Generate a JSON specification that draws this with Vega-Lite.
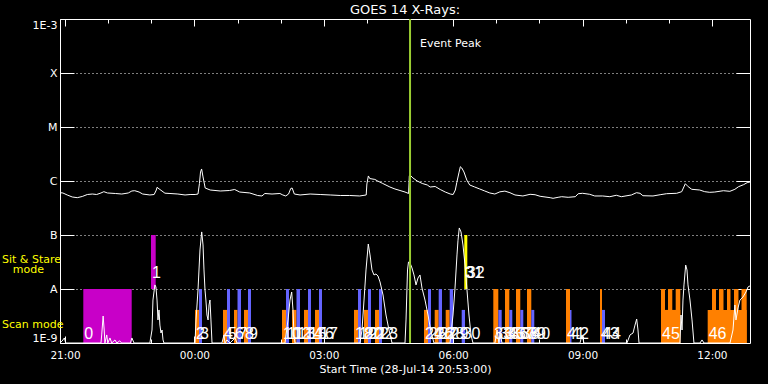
{
"$schema":"https://vega.github.io/schema/vega-lite/v6.json",
"width":690,"height":324,
"autosize":{"type":"none"},
"padding":{"left":60,"top":19,"right":18,"bottom":41},
"background":"#000000",
"config":{"view":{"stroke":"#ffffff","strokeWidth":1},"font":"DejaVu Sans"},
"title":{"text":"GOES 14 X-Rays:","color":"#ffffff","fontSize":13,"fontWeight":"normal","font":"DejaVu Sans","anchor":"middle","frame":"group","offset":5,"baseline":"alphabetic","dy":14},
"datasets":{
"bars":[
{"t":"2014-07-28T21:25:25","t2":"2014-07-28T22:32:45","lo":1e-9,"hi":1e-8,"kind":"overview"},
{"t":"2014-07-28T22:59:37","t2":"2014-07-28T23:06:09","lo":1e-8,"hi":1e-7,"kind":"stare"},
{"t":"2014-07-29T00:00:50","t2":"2014-07-29T00:06:23","lo":1e-9,"hi":4.1e-9,"kind":"scanA"},
{"t":"2014-07-29T00:06:23","t2":"2014-07-29T00:10:34","lo":1e-9,"hi":1e-8,"kind":"scanB"},
{"t":"2014-07-29T00:39:47","t2":"2014-07-29T00:45:21","lo":1e-9,"hi":4.1e-9,"kind":"scanA"},
{"t":"2014-07-29T00:45:21","t2":"2014-07-29T00:49:31","lo":1e-9,"hi":1e-8,"kind":"scanB"},
{"t":"2014-07-29T00:55:05","t2":"2014-07-29T00:59:58","lo":1e-9,"hi":4.1e-9,"kind":"scanA"},
{"t":"2014-07-29T00:59:58","t2":"2014-07-29T01:04:50","lo":1e-9,"hi":1e-8,"kind":"scanB"},
{"t":"2014-07-29T01:09:00","t2":"2014-07-29T01:14:34","lo":1e-9,"hi":4.1e-9,"kind":"scanA"},
{"t":"2014-07-29T01:14:34","t2":"2014-07-29T01:18:44","lo":1e-9,"hi":1e-8,"kind":"scanB"},
{"t":"2014-07-29T02:01:52","t2":"2014-07-29T02:07:26","lo":1e-9,"hi":4.1e-9,"kind":"scanA"},
{"t":"2014-07-29T02:07:26","t2":"2014-07-29T02:11:37","lo":1e-9,"hi":1e-8,"kind":"scanB"},
{"t":"2014-07-29T02:15:47","t2":"2014-07-29T02:22:02","lo":1e-9,"hi":4.1e-9,"kind":"scanA"},
{"t":"2014-07-29T02:22:02","t2":"2014-07-29T02:26:55","lo":1e-9,"hi":1e-8,"kind":"scanB"},
{"t":"2014-07-29T02:32:29","t2":"2014-07-29T02:38:02","lo":1e-9,"hi":4.1e-9,"kind":"scanA"},
{"t":"2014-07-29T02:38:02","t2":"2014-07-29T02:42:13","lo":1e-9,"hi":1e-8,"kind":"scanB"},
{"t":"2014-07-29T02:47:47","t2":"2014-07-29T02:53:21","lo":1e-9,"hi":4.1e-9,"kind":"scanA"},
{"t":"2014-07-29T02:53:21","t2":"2014-07-29T02:57:31","lo":1e-9,"hi":1e-8,"kind":"scanB"},
{"t":"2014-07-29T03:42:02","t2":"2014-07-29T03:47:37","lo":1e-9,"hi":4.1e-9,"kind":"scanA"},
{"t":"2014-07-29T03:47:37","t2":"2014-07-29T03:51:47","lo":1e-9,"hi":1e-8,"kind":"scanB"},
{"t":"2014-07-29T03:55:58","t2":"2014-07-29T04:01:31","lo":1e-9,"hi":4.1e-9,"kind":"scanA"},
{"t":"2014-07-29T04:01:31","t2":"2014-07-29T04:05:41","lo":1e-9,"hi":1e-8,"kind":"scanB"},
{"t":"2014-07-29T04:11:16","t2":"2014-07-29T04:16:49","lo":1e-9,"hi":4.1e-9,"kind":"scanA"},
{"t":"2014-07-29T04:16:49","t2":"2014-07-29T04:21:00","lo":1e-9,"hi":1e-8,"kind":"scanB"},
{"t":"2014-07-29T05:19:26","t2":"2014-07-29T05:25:00","lo":1e-9,"hi":4.1e-9,"kind":"scanA"},
{"t":"2014-07-29T05:25:00","t2":"2014-07-29T05:29:10","lo":1e-9,"hi":1e-8,"kind":"scanB"},
{"t":"2014-07-29T05:34:19","t2":"2014-07-29T05:39:53","lo":1e-9,"hi":4.1e-9,"kind":"scanA"},
{"t":"2014-07-29T05:39:53","t2":"2014-07-29T05:44:29","lo":1e-9,"hi":1e-8,"kind":"scanB"},
{"t":"2014-07-29T05:49:37","t2":"2014-07-29T05:55:11","lo":1e-9,"hi":4.1e-9,"kind":"scanA"},
{"t":"2014-07-29T05:55:11","t2":"2014-07-29T05:59:47","lo":1e-9,"hi":1e-8,"kind":"scanB"},
{"t":"2014-07-29T06:11:53","t2":"2014-07-29T06:16:29","lo":1e-9,"hi":4.1e-9,"kind":"scanB"},
{"t":"2014-07-29T06:15:30","t2":"2014-07-29T06:19:41","lo":1e-8,"hi":1e-7,"kind":"stareY"},
{"t":"2014-07-29T06:55:51","t2":"2014-07-29T07:02:49","lo":1e-9,"hi":1e-8,"kind":"scanA"},
{"t":"2014-07-29T07:02:49","t2":"2014-07-29T07:07:32","lo":1e-9,"hi":4.1e-9,"kind":"scanB"},
{"t":"2014-07-29T07:12:08","t2":"2014-07-29T07:18:07","lo":1e-9,"hi":1e-8,"kind":"scanA"},
{"t":"2014-07-29T07:18:07","t2":"2014-07-29T07:22:17","lo":1e-9,"hi":4.1e-9,"kind":"scanB"},
{"t":"2014-07-29T07:27:26","t2":"2014-07-29T07:33:25","lo":1e-9,"hi":1e-8,"kind":"scanA"},
{"t":"2014-07-29T07:33:25","t2":"2014-07-29T07:37:35","lo":1e-9,"hi":4.1e-9,"kind":"scanB"},
{"t":"2014-07-29T07:42:44","t2":"2014-07-29T07:48:43","lo":1e-9,"hi":1e-8,"kind":"scanA"},
{"t":"2014-07-29T07:48:43","t2":"2014-07-29T07:52:53","lo":1e-9,"hi":4.1e-9,"kind":"scanB"},
{"t":"2014-07-29T08:37:00","t2":"2014-07-29T08:42:34","lo":1e-9,"hi":1e-8,"kind":"scanA"},
{"t":"2014-07-29T08:42:34","t2":"2014-07-29T08:44:39","lo":1e-9,"hi":4.1e-9,"kind":"scanB"},
{"t":"2014-07-29T09:24:18","t2":"2014-07-29T09:27:05","lo":1e-9,"hi":1e-8,"kind":"scanA"},
{"t":"2014-07-29T09:27:05","t2":"2014-07-29T09:31:16","lo":1e-9,"hi":4.1e-9,"kind":"scanB"},
{"t":"2014-07-29T10:49:10","t2":"2014-07-29T11:16:01","lo":1e-9,"hi":4.1e-9,"kind":"scanA"},
{"t":"2014-07-29T10:49:10","t2":"2014-07-29T10:54:44","lo":1e-9,"hi":1e-8,"kind":"scanA"},
{"t":"2014-07-29T10:58:55","t2":"2014-07-29T11:04:53","lo":1e-9,"hi":1e-8,"kind":"scanA"},
{"t":"2014-07-29T11:09:37","t2":"2014-07-29T11:16:01","lo":1e-9,"hi":1e-8,"kind":"scanA"},
{"t":"2014-07-29T11:54:08","t2":"2014-07-29T12:48:24","lo":1e-9,"hi":4.1e-9,"kind":"scanA"},
{"t":"2014-07-29T12:00:08","t2":"2014-07-29T12:05:41","lo":1e-9,"hi":1e-8,"kind":"scanA"},
{"t":"2014-07-29T12:09:52","t2":"2014-07-29T12:16:08","lo":1e-9,"hi":1e-8,"kind":"scanA"},
{"t":"2014-07-29T12:21:00","t2":"2014-07-29T12:25:52","lo":1e-9,"hi":1e-8,"kind":"scanA"},
{"t":"2014-07-29T12:30:44","t2":"2014-07-29T12:36:58","lo":1e-9,"hi":1e-8,"kind":"scanA"},
{"t":"2014-07-29T12:41:10","t2":"2014-07-29T12:48:24","lo":1e-9,"hi":1e-8,"kind":"scanA"}
],
"flux":[
{"band":"long","t":"2014-07-28T20:53:00","v":6.07e-7},
{"band":"long","t":"2014-07-28T20:57:00","v":6.0e-7},
{"band":"long","t":"2014-07-28T21:03:00","v":5.51e-7},
{"band":"long","t":"2014-07-28T21:10:00","v":5.06e-7},
{"band":"long","t":"2014-07-28T21:17:00","v":4.91e-7},
{"band":"long","t":"2014-07-28T21:24:00","v":5.17e-7},
{"band":"long","t":"2014-07-28T21:31:00","v":5.62e-7},
{"band":"long","t":"2014-07-28T21:38:00","v":5.74e-7},
{"band":"long","t":"2014-07-28T21:44:00","v":5.62e-7},
{"band":"long","t":"2014-07-28T21:50:00","v":6.0e-7},
{"band":"long","t":"2014-07-28T21:54:00","v":6.34e-7},
{"band":"long","t":"2014-07-28T21:59:00","v":6.0e-7},
{"band":"long","t":"2014-07-28T22:10:00","v":5.87e-7},
{"band":"long","t":"2014-07-28T22:19:00","v":5.74e-7},
{"band":"long","t":"2014-07-28T22:28:00","v":6.0e-7},
{"band":"long","t":"2014-07-28T22:33:00","v":6.53e-7},
{"band":"long","t":"2014-07-28T22:37:00","v":6.61e-7},
{"band":"long","t":"2014-07-28T22:43:00","v":6.25e-7},
{"band":"long","t":"2014-07-28T22:48:00","v":5.74e-7},
{"band":"long","t":"2014-07-28T22:58:00","v":5.51e-7},
{"band":"long","t":"2014-07-28T23:04:00","v":5.62e-7},
{"band":"long","t":"2014-07-28T23:07:00","v":6.81e-7},
{"band":"long","t":"2014-07-28T23:08:00","v":7.64e-7},
{"band":"long","t":"2014-07-28T23:12:00","v":6.96e-7},
{"band":"long","t":"2014-07-28T23:19:00","v":5.95e-7},
{"band":"long","t":"2014-07-28T23:26:00","v":5.87e-7},
{"band":"long","t":"2014-07-28T23:37:00","v":5.74e-7},
{"band":"long","t":"2014-07-28T23:47:00","v":5.51e-7},
{"band":"long","t":"2014-07-28T23:54:00","v":5.62e-7},
{"band":"long","t":"2014-07-29T00:01:00","v":5.62e-7},
{"band":"long","t":"2014-07-29T00:05:00","v":5.74e-7},
{"band":"long","t":"2014-07-29T00:07:00","v":9.0e-7},
{"band":"long","t":"2014-07-29T00:08:30","v":1.47e-6},
{"band":"long","t":"2014-07-29T00:10:00","v":1.67e-6},
{"band":"long","t":"2014-07-29T00:12:00","v":1.19e-6},
{"band":"long","t":"2014-07-29T00:15:00","v":7.41e-7},
{"band":"long","t":"2014-07-29T00:22:00","v":6.81e-7},
{"band":"long","t":"2014-07-29T00:36:00","v":6.53e-7},
{"band":"long","t":"2014-07-29T00:49:00","v":6.67e-7},
{"band":"long","t":"2014-07-29T00:56:00","v":6.96e-7},
{"band":"long","t":"2014-07-29T01:03:00","v":6.25e-7},
{"band":"long","t":"2014-07-29T01:17:00","v":6.0e-7},
{"band":"long","t":"2014-07-29T01:28:00","v":5.39e-7},
{"band":"long","t":"2014-07-29T01:34:00","v":5.28e-7},
{"band":"long","t":"2014-07-29T01:38:00","v":5.87e-7},
{"band":"long","t":"2014-07-29T01:48:00","v":5.74e-7},
{"band":"long","t":"2014-07-29T01:59:00","v":5.87e-7},
{"band":"long","t":"2014-07-29T02:03:00","v":5.51e-7},
{"band":"long","t":"2014-07-29T02:07:00","v":5.28e-7},
{"band":"long","t":"2014-07-29T02:11:00","v":5.74e-7},
{"band":"long","t":"2014-07-29T02:14:00","v":7.26e-7},
{"band":"long","t":"2014-07-29T02:16:00","v":7.41e-7},
{"band":"long","t":"2014-07-29T02:19:00","v":5.74e-7},
{"band":"long","t":"2014-07-29T02:27:00","v":5.51e-7},
{"band":"long","t":"2014-07-29T02:41:00","v":5.74e-7},
{"band":"long","t":"2014-07-29T02:55:00","v":5.62e-7},
{"band":"long","t":"2014-07-29T03:09:00","v":5.51e-7},
{"band":"long","t":"2014-07-29T03:23:00","v":5.39e-7},
{"band":"long","t":"2014-07-29T03:36:00","v":5.39e-7},
{"band":"long","t":"2014-07-29T03:50:00","v":5.28e-7},
{"band":"long","t":"2014-07-29T03:59:00","v":5.51e-7},
{"band":"long","t":"2014-07-29T04:00:00","v":8.8e-7},
{"band":"long","t":"2014-07-29T04:02:00","v":1.24e-6},
{"band":"long","t":"2014-07-29T04:04:00","v":1.11e-6},
{"band":"long","t":"2014-07-29T04:11:00","v":1.07e-6},
{"band":"long","t":"2014-07-29T04:15:00","v":1.0e-6},
{"band":"long","t":"2014-07-29T04:22:00","v":9.0e-7},
{"band":"long","t":"2014-07-29T04:32:00","v":7.74e-7},
{"band":"long","t":"2014-07-29T04:39:00","v":7.11e-7},
{"band":"long","t":"2014-07-29T04:46:00","v":6.67e-7},
{"band":"long","t":"2014-07-29T04:53:00","v":6.25e-7},
{"band":"long","t":"2014-07-29T04:58:00","v":5.87e-7},
{"band":"long","t":"2014-07-29T04:59:00","v":1.25e-6},
{"band":"long","t":"2014-07-29T05:00:00","v":1.29e-6},
{"band":"long","t":"2014-07-29T05:04:00","v":1.14e-6},
{"band":"long","t":"2014-07-29T05:10:00","v":1.0e-6},
{"band":"long","t":"2014-07-29T05:17:00","v":9.0e-7},
{"band":"long","t":"2014-07-29T05:24:00","v":8.44e-7},
{"band":"long","t":"2014-07-29T05:28:00","v":7.74e-7},
{"band":"long","t":"2014-07-29T05:35:00","v":7.91e-7},
{"band":"long","t":"2014-07-29T05:42:00","v":6.96e-7},
{"band":"long","t":"2014-07-29T05:49:00","v":6.25e-7},
{"band":"long","t":"2014-07-29T05:56:00","v":5.74e-7},
{"band":"long","t":"2014-07-29T06:00:00","v":5.62e-7},
{"band":"long","t":"2014-07-29T06:03:00","v":6.81e-7},
{"band":"long","t":"2014-07-29T06:05:00","v":9.31e-7},
{"band":"long","t":"2014-07-29T06:08:00","v":1.41e-6},
{"band":"long","t":"2014-07-29T06:10:00","v":1.84e-6},
{"band":"long","t":"2014-07-29T06:12:00","v":1.74e-6},
{"band":"long","t":"2014-07-29T06:15:00","v":1.47e-6},
{"band":"long","t":"2014-07-29T06:19:00","v":1.04e-6},
{"band":"long","t":"2014-07-29T06:23:00","v":8.44e-7},
{"band":"long","t":"2014-07-29T06:30:00","v":7.74e-7},
{"band":"long","t":"2014-07-29T06:37:00","v":7.11e-7},
{"band":"long","t":"2014-07-29T06:44:00","v":6.53e-7},
{"band":"long","t":"2014-07-29T06:51:00","v":6.0e-7},
{"band":"long","t":"2014-07-29T06:58:00","v":5.74e-7},
{"band":"long","t":"2014-07-29T07:05:00","v":6.3e-7},
{"band":"long","t":"2014-07-29T07:12:00","v":6.5e-7},
{"band":"long","t":"2014-07-29T07:19:00","v":6.07e-7},
{"band":"long","t":"2014-07-29T07:26:00","v":5.51e-7},
{"band":"long","t":"2014-07-29T07:37:00","v":5.28e-7},
{"band":"long","t":"2014-07-29T07:47:00","v":5.67e-7},
{"band":"long","t":"2014-07-29T07:54:00","v":5.57e-7},
{"band":"long","t":"2014-07-29T08:01:00","v":5.21e-7},
{"band":"long","t":"2014-07-29T08:15:00","v":4.91e-7},
{"band":"long","t":"2014-07-29T08:19:00","v":4.78e-7},
{"band":"long","t":"2014-07-29T08:26:00","v":4.99e-7},
{"band":"long","t":"2014-07-29T08:31:00","v":5.12e-7},
{"band":"long","t":"2014-07-29T08:40:00","v":4.99e-7},
{"band":"long","t":"2014-07-29T08:50:00","v":5.12e-7},
{"band":"long","t":"2014-07-29T08:54:00","v":5.82e-7},
{"band":"long","t":"2014-07-29T09:00:00","v":5.92e-7},
{"band":"long","t":"2014-07-29T09:10:00","v":5.67e-7},
{"band":"long","t":"2014-07-29T09:17:00","v":5.28e-7},
{"band":"long","t":"2014-07-29T09:28:00","v":5.28e-7},
{"band":"long","t":"2014-07-29T09:38:00","v":5.12e-7},
{"band":"long","t":"2014-07-29T09:47:00","v":5.44e-7},
{"band":"long","t":"2014-07-29T09:54:00","v":5.12e-7},
{"band":"long","t":"2014-07-29T10:08:00","v":5.51e-7},
{"band":"long","t":"2014-07-29T10:15:00","v":6.07e-7},
{"band":"long","t":"2014-07-29T10:20:00","v":5.92e-7},
{"band":"long","t":"2014-07-29T10:24:00","v":5.34e-7},
{"band":"long","t":"2014-07-29T10:38:00","v":5.28e-7},
{"band":"long","t":"2014-07-29T10:48:00","v":5.57e-7},
{"band":"long","t":"2014-07-29T10:57:00","v":5.82e-7},
{"band":"long","t":"2014-07-29T11:11:00","v":5.92e-7},
{"band":"long","t":"2014-07-29T11:18:00","v":6.34e-7},
{"band":"long","t":"2014-07-29T11:23:00","v":8.9e-7},
{"band":"long","t":"2014-07-29T11:27:00","v":7.84e-7},
{"band":"long","t":"2014-07-29T11:32:00","v":7.02e-7},
{"band":"long","t":"2014-07-29T11:43:00","v":6.81e-7},
{"band":"long","t":"2014-07-29T11:50:00","v":6.34e-7},
{"band":"long","t":"2014-07-29T11:57:00","v":6.17e-7},
{"band":"long","t":"2014-07-29T12:04:00","v":6.25e-7},
{"band":"long","t":"2014-07-29T12:16:00","v":6.61e-7},
{"band":"long","t":"2014-07-29T12:25:00","v":6.44e-7},
{"band":"long","t":"2014-07-29T12:32:00","v":7.02e-7},
{"band":"long","t":"2014-07-29T12:37:00","v":7.84e-7},
{"band":"long","t":"2014-07-29T12:44:00","v":8.54e-7},
{"band":"long","t":"2014-07-29T12:49:00","v":9.31e-7},
{"band":"long","t":"2014-07-29T12:53:00","v":9.6e-7},
{"band":"short","t":"2014-07-28T20:53:00","v":1e-9},
{"band":"short","t":"2014-07-28T20:56:00","v":1.09e-9},
{"band":"short","t":"2014-07-28T20:59:00","v":1.24e-9},
{"band":"short","t":"2014-07-28T21:01:00","v":1e-9},
{"band":"short","t":"2014-07-28T21:50:00","v":1e-9},
{"band":"short","t":"2014-07-28T21:51:00","v":1.41e-9},
{"band":"short","t":"2014-07-28T21:53:00","v":3.16e-9},
{"band":"short","t":"2014-07-28T21:54:30","v":1.74e-9},
{"band":"short","t":"2014-07-28T21:55:30","v":1e-9},
{"band":"short","t":"2014-07-28T21:58:00","v":1.41e-9},
{"band":"short","t":"2014-07-28T21:59:30","v":1e-9},
{"band":"short","t":"2014-07-28T22:02:30","v":1.24e-9},
{"band":"short","t":"2014-07-28T22:05:00","v":1e-9},
{"band":"short","t":"2014-07-28T22:09:30","v":1.14e-9},
{"band":"short","t":"2014-07-28T22:12:00","v":1e-9},
{"band":"short","t":"2014-07-28T22:16:00","v":1.09e-9},
{"band":"short","t":"2014-07-28T22:19:00","v":1e-9},
{"band":"short","t":"2014-07-28T22:31:00","v":1e-9},
{"band":"short","t":"2014-07-28T22:33:00","v":1.24e-9},
{"band":"short","t":"2014-07-28T22:36:00","v":1e-9},
{"band":"short","t":"2014-07-28T22:58:00","v":1e-9},
{"band":"short","t":"2014-07-28T23:01:00","v":1.74e-9},
{"band":"short","t":"2014-07-28T23:02:20","v":6.25e-9},
{"band":"short","t":"2014-07-28T23:05:00","v":1.19e-8},
{"band":"short","t":"2014-07-28T23:06:30","v":1.09e-8},
{"band":"short","t":"2014-07-28T23:08:00","v":6.25e-9},
{"band":"short","t":"2014-07-28T23:09:20","v":2.67e-9},
{"band":"short","t":"2014-07-28T23:10:45","v":4.09e-9},
{"band":"short","t":"2014-07-28T23:12:00","v":2.15e-9},
{"band":"short","t":"2014-07-28T23:13:30","v":1.53e-9},
{"band":"short","t":"2014-07-28T23:15:00","v":1.74e-9},
{"band":"short","t":"2014-07-28T23:16:20","v":1.14e-9},
{"band":"short","t":"2014-07-28T23:17:40","v":1e-9},
{"band":"short","t":"2014-07-29T00:00:50","v":1e-9},
{"band":"short","t":"2014-07-29T00:02:15","v":2.67e-9},
{"band":"short","t":"2014-07-29T00:05:00","v":9.58e-9},
{"band":"short","t":"2014-07-29T00:07:45","v":5.28e-8},
{"band":"short","t":"2014-07-29T00:10:10","v":1.14e-7},
{"band":"short","t":"2014-07-29T00:12:00","v":6.53e-8},
{"band":"short","t":"2014-07-29T00:13:20","v":2.25e-8},
{"band":"short","t":"2014-07-29T00:14:45","v":9.58e-9},
{"band":"short","t":"2014-07-29T00:16:00","v":6.25e-9},
{"band":"short","t":"2014-07-29T00:17:30","v":3.3e-9},
{"band":"short","t":"2014-07-29T00:19:00","v":2.67e-9},
{"band":"short","t":"2014-07-29T00:20:20","v":5.06e-9},
{"band":"short","t":"2014-07-29T00:21:40","v":6.25e-9},
{"band":"short","t":"2014-07-29T00:23:00","v":2.67e-9},
{"band":"short","t":"2014-07-29T00:24:30","v":1e-9},
{"band":"short","t":"2014-07-29T00:38:20","v":1e-9},
{"band":"short","t":"2014-07-29T00:41:10","v":1.41e-9},
{"band":"short","t":"2014-07-29T00:42:30","v":1e-9},
{"band":"short","t":"2014-07-29T00:45:20","v":1.14e-9},
{"band":"short","t":"2014-07-29T00:49:30","v":1e-9},
{"band":"short","t":"2014-07-29T00:56:30","v":1.24e-9},
{"band":"short","t":"2014-07-29T00:59:15","v":1e-9},
{"band":"short","t":"2014-07-29T02:06:00","v":1e-9},
{"band":"short","t":"2014-07-29T02:07:25","v":1.41e-9},
{"band":"short","t":"2014-07-29T02:10:15","v":2.67e-9},
{"band":"short","t":"2014-07-29T02:13:00","v":6.25e-9},
{"band":"short","t":"2014-07-29T02:15:20","v":8.8e-9},
{"band":"short","t":"2014-07-29T02:17:10","v":4.09e-9},
{"band":"short","t":"2014-07-29T02:18:35","v":1.41e-9},
{"band":"short","t":"2014-07-29T02:20:00","v":1e-9},
{"band":"short","t":"2014-07-29T03:50:20","v":1e-9},
{"band":"short","t":"2014-07-29T03:53:10","v":1.74e-9},
{"band":"short","t":"2014-07-29T03:56:00","v":6.25e-9},
{"band":"short","t":"2014-07-29T03:58:45","v":2.25e-8},
{"band":"short","t":"2014-07-29T04:01:55","v":6.81e-8},
{"band":"short","t":"2014-07-29T04:04:20","v":4.27e-8},
{"band":"short","t":"2014-07-29T04:07:05","v":2.25e-8},
{"band":"short","t":"2014-07-29T04:09:50","v":1.82e-8},
{"band":"short","t":"2014-07-29T04:12:40","v":1.9e-8},
{"band":"short","t":"2014-07-29T04:15:25","v":1.74e-8},
{"band":"short","t":"2014-07-29T04:18:15","v":1.35e-8},
{"band":"short","t":"2014-07-29T04:22:25","v":7.74e-9},
{"band":"short","t":"2014-07-29T04:26:35","v":3.3e-9},
{"band":"short","t":"2014-07-29T04:30:45","v":1.74e-9},
{"band":"short","t":"2014-07-29T04:34:55","v":1e-9},
{"band":"short","t":"2014-07-29T04:53:00","v":1e-9},
{"band":"short","t":"2014-07-29T04:54:25","v":2.67e-9},
{"band":"short","t":"2014-07-29T04:56:30","v":2.25e-8},
{"band":"short","t":"2014-07-29T04:57:50","v":3.16e-8},
{"band":"short","t":"2014-07-29T05:00:00","v":3.03e-8},
{"band":"short","t":"2014-07-29T05:02:45","v":2.45e-8},
{"band":"short","t":"2014-07-29T05:05:30","v":1.82e-8},
{"band":"short","t":"2014-07-29T05:08:20","v":1.19e-8},
{"band":"short","t":"2014-07-29T05:11:05","v":1.6e-8},
{"band":"short","t":"2014-07-29T05:13:50","v":1.82e-8},
{"band":"short","t":"2014-07-29T05:16:40","v":1.04e-8},
{"band":"short","t":"2014-07-29T05:20:50","v":6.25e-9},
{"band":"short","t":"2014-07-29T05:25:00","v":3.3e-9},
{"band":"short","t":"2014-07-29T05:29:10","v":1.6e-9},
{"band":"short","t":"2014-07-29T05:33:20","v":1e-9},
{"band":"short","t":"2014-07-29T05:55:35","v":1e-9},
{"band":"short","t":"2014-07-29T05:59:47","v":3.3e-9},
{"band":"short","t":"2014-07-29T06:02:35","v":1.04e-8},
{"band":"short","t":"2014-07-29T06:05:20","v":4.27e-8},
{"band":"short","t":"2014-07-29T06:06:45","v":8.0e-8},
{"band":"short","t":"2014-07-29T06:08:30","v":1.35e-7},
{"band":"short","t":"2014-07-29T06:10:55","v":1.14e-7},
{"band":"short","t":"2014-07-29T06:13:40","v":6.53e-8},
{"band":"short","t":"2014-07-29T06:16:30","v":2.78e-8},
{"band":"short","t":"2014-07-29T06:19:15","v":9.58e-9},
{"band":"short","t":"2014-07-29T06:22:00","v":3.3e-9},
{"band":"short","t":"2014-07-29T06:24:50","v":1.41e-9},
{"band":"short","t":"2014-07-29T06:27:35","v":1e-9},
{"band":"short","t":"2014-07-29T06:58:10","v":1e-9},
{"band":"short","t":"2014-07-29T07:01:00","v":1.74e-9},
{"band":"short","t":"2014-07-29T07:03:45","v":1e-9},
{"band":"short","t":"2014-07-29T07:05:10","v":1.53e-9},
{"band":"short","t":"2014-07-29T07:08:00","v":1e-9},
{"band":"short","t":"2014-07-29T08:56:30","v":1e-9},
{"band":"short","t":"2014-07-29T08:59:15","v":1.41e-9},
{"band":"short","t":"2014-07-29T09:02:00","v":1e-9},
{"band":"short","t":"2014-07-29T10:01:50","v":1e-9},
{"band":"short","t":"2014-07-29T10:06:00","v":1.41e-9},
{"band":"short","t":"2014-07-29T10:10:15","v":1.53e-9},
{"band":"short","t":"2014-07-29T10:13:00","v":2.15e-9},
{"band":"short","t":"2014-07-29T10:15:20","v":2.78e-9},
{"band":"short","t":"2014-07-29T10:17:10","v":1.74e-9},
{"band":"short","t":"2014-07-29T10:18:35","v":1e-9},
{"band":"short","t":"2014-07-29T11:15:35","v":1e-9},
{"band":"short","t":"2014-07-29T11:17:00","v":3.3e-9},
{"band":"short","t":"2014-07-29T11:18:25","v":1.74e-9},
{"band":"short","t":"2014-07-29T11:19:45","v":6.25e-9},
{"band":"short","t":"2014-07-29T11:21:10","v":1.19e-8},
{"band":"short","t":"2014-07-29T11:23:30","v":2.78e-8},
{"band":"short","t":"2014-07-29T11:25:20","v":2.25e-8},
{"band":"short","t":"2014-07-29T11:26:45","v":1.19e-8},
{"band":"short","t":"2014-07-29T11:29:30","v":6.25e-9},
{"band":"short","t":"2014-07-29T11:32:20","v":2.67e-9},
{"band":"short","t":"2014-07-29T11:35:00","v":1e-9},
{"band":"short","t":"2014-07-29T11:43:25","v":1e-9},
{"band":"short","t":"2014-07-29T11:46:15","v":1.14e-9},
{"band":"short","t":"2014-07-29T11:49:00","v":1e-9},
{"band":"short","t":"2014-07-29T12:25:10","v":1e-9},
{"band":"short","t":"2014-07-29T12:29:20","v":1.74e-9},
{"band":"short","t":"2014-07-29T12:32:00","v":5.06e-9},
{"band":"short","t":"2014-07-29T12:33:30","v":2.67e-9},
{"band":"short","t":"2014-07-29T12:36:20","v":4.45e-9},
{"band":"short","t":"2014-07-29T12:39:00","v":6.25e-9},
{"band":"short","t":"2014-07-29T12:43:15","v":7.11e-9},
{"band":"short","t":"2014-07-29T12:47:25","v":8.8e-9},
{"band":"short","t":"2014-07-29T12:50:15","v":1.09e-8},
{"band":"short","t":"2014-07-29T12:53:00","v":1.14e-8}
],
"scans":[
{"n":"0","t":"2014-07-28T21:25:25","v":1.21e-9},
{"n":"1","t":"2014-07-28T22:59:37","v":1.6e-8},
{"n":"2","t":"2014-07-29T00:00:50","v":1.21e-9},
{"n":"3","t":"2014-07-29T00:06:23","v":1.21e-9},
{"n":"4","t":"2014-07-29T00:39:47","v":1.21e-9},
{"n":"5","t":"2014-07-29T00:45:21","v":1.21e-9},
{"n":"6","t":"2014-07-29T00:55:05","v":1.21e-9},
{"n":"7","t":"2014-07-29T00:59:58","v":1.21e-9},
{"n":"8","t":"2014-07-29T01:09:00","v":1.21e-9},
{"n":"9","t":"2014-07-29T01:14:34","v":1.21e-9},
{"n":"10","t":"2014-07-29T02:01:52","v":1.21e-9},
{"n":"11","t":"2014-07-29T02:07:26","v":1.21e-9},
{"n":"12","t":"2014-07-29T02:15:47","v":1.21e-9},
{"n":"13","t":"2014-07-29T02:22:02","v":1.21e-9},
{"n":"14","t":"2014-07-29T02:32:29","v":1.21e-9},
{"n":"15","t":"2014-07-29T02:38:02","v":1.21e-9},
{"n":"16","t":"2014-07-29T02:47:47","v":1.21e-9},
{"n":"17","t":"2014-07-29T02:53:21","v":1.21e-9},
{"n":"18","t":"2014-07-29T03:42:02","v":1.21e-9},
{"n":"19","t":"2014-07-29T03:47:37","v":1.21e-9},
{"n":"20","t":"2014-07-29T03:55:58","v":1.21e-9},
{"n":"21","t":"2014-07-29T04:01:31","v":1.21e-9},
{"n":"22","t":"2014-07-29T04:11:16","v":1.21e-9},
{"n":"23","t":"2014-07-29T04:16:49","v":1.21e-9},
{"n":"24","t":"2014-07-29T05:19:26","v":1.21e-9},
{"n":"25","t":"2014-07-29T05:25:00","v":1.21e-9},
{"n":"26","t":"2014-07-29T05:34:19","v":1.21e-9},
{"n":"27","t":"2014-07-29T05:39:53","v":1.21e-9},
{"n":"28","t":"2014-07-29T05:49:37","v":1.21e-9},
{"n":"29","t":"2014-07-29T05:55:11","v":1.21e-9},
{"n":"30","t":"2014-07-29T06:11:53","v":1.21e-9},
{"n":"31","t":"2014-07-29T06:15:30","v":1.6e-8},
{"n":"32","t":"2014-07-29T06:17:30","v":1.6e-8},
{"n":"33","t":"2014-07-29T06:55:51","v":1.21e-9},
{"n":"34","t":"2014-07-29T07:02:49","v":1.21e-9},
{"n":"35","t":"2014-07-29T07:12:08","v":1.21e-9},
{"n":"36","t":"2014-07-29T07:18:07","v":1.21e-9},
{"n":"37","t":"2014-07-29T07:27:26","v":1.21e-9},
{"n":"38","t":"2014-07-29T07:33:25","v":1.21e-9},
{"n":"39","t":"2014-07-29T07:42:44","v":1.21e-9},
{"n":"40","t":"2014-07-29T07:48:43","v":1.21e-9},
{"n":"41","t":"2014-07-29T08:37:00","v":1.21e-9},
{"n":"42","t":"2014-07-29T08:42:34","v":1.21e-9},
{"n":"43","t":"2014-07-29T09:24:18","v":1.21e-9},
{"n":"44","t":"2014-07-29T09:27:05","v":1.21e-9},
{"n":"45","t":"2014-07-29T10:49:10","v":1.21e-9},
{"n":"46","t":"2014-07-29T11:54:08","v":1.21e-9}
],
"peak":[{"t":"2014-07-29T05:00:00","v":3.03e-4,"text":"Event Peak"}],
"side":[
{"t":"2014-07-28T19:32:18","v":3.03e-8,"text":"Sit & Stare"},
{"t":"2014-07-28T19:47:12","v":1.95e-8,"text":"mode"},
{"t":"2014-07-28T19:32:18","v":1.87e-9,"text":"Scan mode"}
]
},
"resolve":{"axis":{"x":"independent","y":"independent"}},
"layer":[
{"data":{"name":"bars"},"mark":{"type":"rect"},
 "encoding":{
  "x":{"field":"t","type":"temporal",
   "scale":{"domain":[{"year":2014,"month":7,"date":28,"hours":20,"minutes":53},{"year":2014,"month":7,"date":29,"hours":12,"minutes":53}],"nice":false},
   "axis":{"orient":"bottom","domain":false,"grid":false,"tickColor":"#ffffff","tickSize":-7,
    "values":[
     {"year":2014,"month":7,"date":28,"hours":21},{"year":2014,"month":7,"date":29,"hours":0},{"year":2014,"month":7,"date":29,"hours":3},
     {"year":2014,"month":7,"date":29,"hours":6},{"year":2014,"month":7,"date":29,"hours":9},{"year":2014,"month":7,"date":29,"hours":12}],
    "format":"%H:%M",
    "labelColor":"#ffffff","labelFontSize":10.5,"labelFlush":false,"labelOverlap":false,"labelPadding":14,
    "title":"Start Time (28-Jul-14 20:53:00)","titleColor":"#ffffff","titleFontSize":11,"titleFontWeight":"normal","titlePadding":3}},
  "x2":{"field":"t2"},
  "y":{"field":"lo","type":"quantitative",
   "scale":{"type":"log","domain":[1e-9,1e-3],"nice":false},
   "axis":{"orient":"left","values":[1e-9,1e-8,1e-7,1e-6,1e-5,1e-4,1e-3],"domain":false,"grid":true,"gridColor":"#ffffff","gridDash":[1,3],"gridOpacity":1,
    "tickColor":"#ffffff","tickSize":-14,
    "labelExpr":"datum.value > 5e-4 ? '1E-3' : datum.value > 5e-5 ? 'X\u00a0\u00a0\u00a0' : datum.value > 5e-6 ? 'M\u00a0\u00a0\u00a0' : datum.value > 5e-7 ? 'C\u00a0\u00a0\u00a0' : datum.value > 5e-8 ? 'B\u00a0\u00a0\u00a0' : datum.value > 5e-9 ? 'A\u00a0\u00a0\u00a0' : '1E-9'",
    "labelColor":"#ffffff","labelFontSize":11,"labelPadding":17,"labelFlush":true,"labelOverlap":false,"title":null}},
  "y2":{"field":"hi"},
  "color":{"field":"kind","type":"nominal","scale":{"domain":["overview","stare","scanA","scanB","stareY"],"range":["#c800c8","#c800c8","#ff8000","#6464ff","#ffff00"]},"legend":null}
 }},
{"data":{"name":"flux"},"mark":{"type":"line","color":"#ffffff","strokeWidth":1,"clip":true},
 "encoding":{
  "x":{"field":"t","type":"temporal",
   "axis":{"orient":"bottom","domain":false,"grid":false,"labels":false,"tickColor":"#ffffff","tickSize":-4,"title":null,
    "values":[
     {"year":2014,"month":7,"date":28,"hours":22},{"year":2014,"month":7,"date":28,"hours":23},
     {"year":2014,"month":7,"date":29,"hours":1},{"year":2014,"month":7,"date":29,"hours":2},
     {"year":2014,"month":7,"date":29,"hours":4},{"year":2014,"month":7,"date":29,"hours":5},
     {"year":2014,"month":7,"date":29,"hours":7},{"year":2014,"month":7,"date":29,"hours":8},
     {"year":2014,"month":7,"date":29,"hours":10},{"year":2014,"month":7,"date":29,"hours":11}]}},
  "y":{"field":"v","type":"quantitative","scale":{"type":"log"},
   "axis":{"orient":"right","values":[1e-8,1e-7,1e-6,1e-5,1e-4],"domain":false,"grid":false,"labels":false,"tickColor":"#ffffff","tickSize":-14,"title":null}},
  "detail":{"field":"band"}}},
{"data":{"name":"scans"},"mark":{"type":"text","color":"#ffffff","font":"Liberation Sans","fontSize":16,"align":"left","baseline":"alphabetic","dx":1},
 "encoding":{
  "x":{"field":"t","type":"temporal","axis":null},
  "y":{"field":"v","type":"quantitative","scale":{"type":"log"},"axis":null},
  "text":{"field":"n"}}},
{"data":{"name":"peak"},"mark":{"type":"rule","color":"#9acd32","strokeWidth":2},
 "encoding":{
  "x":{"field":"t","type":"temporal",
   "axis":{"orient":"top","domain":false,"grid":false,"labels":false,"tickColor":"#ffffff","tickSize":-7,"title":null,
    "values":[
     {"year":2014,"month":7,"date":28,"hours":21},{"year":2014,"month":7,"date":29,"hours":0},{"year":2014,"month":7,"date":29,"hours":3},
     {"year":2014,"month":7,"date":29,"hours":6},{"year":2014,"month":7,"date":29,"hours":9},{"year":2014,"month":7,"date":29,"hours":12}]}}}},
{"data":{"name":"peak"},"mark":{"type":"text","color":"#ffffff","fontSize":11,"align":"left","baseline":"alphabetic","dx":10},
 "encoding":{
  "x":{"field":"t","type":"temporal",
   "axis":{"orient":"top","domain":false,"grid":false,"labels":false,"tickColor":"#ffffff","tickSize":-4,"title":null,
    "values":[
     {"year":2014,"month":7,"date":28,"hours":22},{"year":2014,"month":7,"date":28,"hours":23},
     {"year":2014,"month":7,"date":29,"hours":1},{"year":2014,"month":7,"date":29,"hours":2},
     {"year":2014,"month":7,"date":29,"hours":4},{"year":2014,"month":7,"date":29,"hours":5},
     {"year":2014,"month":7,"date":29,"hours":7},{"year":2014,"month":7,"date":29,"hours":8},
     {"year":2014,"month":7,"date":29,"hours":10},{"year":2014,"month":7,"date":29,"hours":11}]}},
  "y":{"field":"v","type":"quantitative","scale":{"type":"log"},"axis":null},
  "text":{"field":"text"}}},
{"data":{"name":"side"},"mark":{"type":"text","color":"#ffff00","fontSize":11,"align":"left","baseline":"alphabetic"},
 "encoding":{
  "x":{"field":"t","type":"temporal","axis":null},
  "y":{"field":"v","type":"quantitative","scale":{"type":"log"},"axis":null},
  "text":{"field":"text"}}}
]
}
